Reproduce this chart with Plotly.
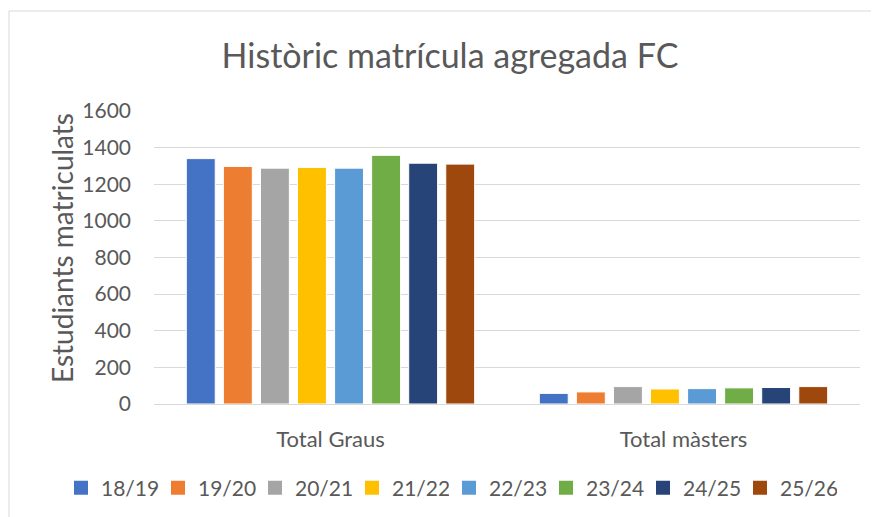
import plotly.graph_objects as go

categories = ["Total Graus", "Total màsters"]
series_names = ["18/19", "19/20", "20/21", "21/22", "22/23", "23/24", "24/25", "25/26"]
graus = [1340, 1297, 1288, 1292, 1288, 1358, 1315, 1310]
masters = [58, 66, 95, 82, 84, 88, 90, 95]
colors = ["#4472C4", "#ED7D31", "#A5A5A5", "#FFC000", "#5B9BD5", "#70AD47", "#264478", "#9E480E"]
y_ticks = [0, 200, 400, 600, 800, 1000, 1200, 1400, 1600]
y_title = "Estudiants matriculats"
chart_title = "Històric matrícula agregada FC"

FONT = "Lato, Open Sans, sans-serif"
TXT = "#595959"

fig = go.Figure()
for i, name in enumerate(series_names):
    fig.add_trace(go.Bar(
        x=categories, y=[graus[i], masters[i]], name=name, legendgroup=name,
        showlegend=False,
        marker=dict(color=colors[i], line=dict(color="white", width=1)),
    ))
# legend entries with larger square swatches, split in two legends to fit one row
for i, name in enumerate(series_names):
    fig.add_trace(go.Scatter(
        x=[None], y=[None], mode="markers", name=name, legendgroup=name,
        legend="legend" if i < 4 else "legend2",
        marker=dict(symbol="square", size=14, color=colors[i]),
    ))

OFF = 8  # page body margin
W, H = 879, 517
L, R, T, B = 154 - OFF, 860 - OFF, 111 - OFF, 404 - OFF
pw, ph = R - L, B - T

leg_common = dict(orientation="h", xanchor="left", xref="container",
                  y=1 - (488 - OFF) / H, yanchor="middle", yref="container",
                  font=dict(size=21, color=TXT), itemwidth=30, traceorder="normal",
                  entrywidth=52, tracegroupgap=0, bgcolor="rgba(0,0,0,0)")

fig.update_layout(
    width=W, height=H,
    margin=dict(l=L, r=W - R, t=T, b=H - B, pad=0, autoexpand=False),
    paper_bgcolor="white", plot_bgcolor="white",
    barmode="group", bargap=0.16, bargroupgap=0.22,
    font=dict(family=FONT, color=TXT, size=21),
    title=dict(text=chart_title, x=(450 - OFF) / W, xanchor="center",
               y=1 - (56 - OFF) / H, yanchor="middle", yref="container",
               font=dict(size=34, color=TXT, family=FONT)),
    xaxis=dict(showgrid=False, showline=True, linecolor="#d9d9d9", linewidth=1,
               ticks="", ticklabelstandoff=16, tickfont=dict(size=22, color=TXT)),
    yaxis=dict(range=[0, 1600], tickvals=y_ticks, showgrid=True, gridcolor="#d9d9d9",
               gridwidth=1, zeroline=False, showline=False, ticks="",
               ticklabelstandoff=22,
               tickfont=dict(size=21, color=TXT)),
    legend=dict(x=(61 - OFF) / W, **leg_common),
    legend2=dict(x=(449 - OFF) / W, **leg_common),
    showlegend=True,
)

fig.add_annotation(text=y_title, textangle=-90, xref="paper", yref="paper",
                   x=(62 - 154) / pw, y=(404 - 248) / ph, xanchor="center", yanchor="middle",
                   showarrow=False, font=dict(size=28, color=TXT, family=FONT))

fig.add_shape(type="rect", xref="paper", yref="paper",
              x0=(9 - OFF - L) / pw, x1=(W + 5 - L) / pw,
              y0=(B - (11 - OFF)) / ph, y1=(B - (H + 5)) / ph,
              line=dict(color="#d9d9d9", width=1), fillcolor="rgba(0,0,0,0)", layer="below")

fig.write_html("out.html")
